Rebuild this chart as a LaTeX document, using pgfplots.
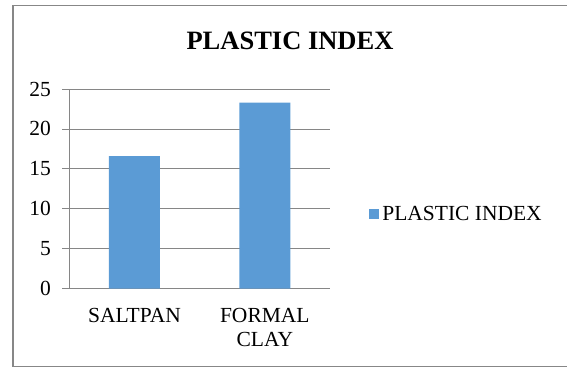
\documentclass[border=0pt]{standalone}
\usepackage{fontspec}
\setmainfont{Liberation Serif}
\usepackage{pgfplots}
\pgfplotsset{compat=1.18}
\definecolor{barblue}{HTML}{5B9BD5}
\definecolor{gridgray}{RGB}{134,134,134}
\definecolor{framegray}{RGB}{135,135,135}
\begin{document}
\begin{tikzpicture}[x=1pt,y=1pt]
  \begin{axis}[name=ax,
    anchor=south west,
    scale only axis, width=260.7pt, height=199.7pt,
    ybar, bar width=51pt,
    ymin=0, ymax=25, ytick={0,5,...,25},
    xmin=-0.5, xmax=1.5,
    xtick={0,1}, xticklabels={SALTPAN, {FORMAL\\CLAY}},
    x tick style={draw=none},
    extra x ticks={-0.5,0.5,1.5}, extra x tick labels={},
    extra x tick style={major tick length=5pt,
      tick style={draw=gridgray, line width=0.8pt}, grid=none},
    axis x line=bottom, axis y line=left,
    axis line style={-, draw=gridgray, line width=0.8pt},
    tick align=outside, major tick length=7pt,
    y tick style={draw=gridgray, line width=0.8pt},
    ymajorgrids, grid style={draw=gridgray, line width=0.8pt},
    /pgf/number format/assume math mode=true,
    tick label style={font=\fontsize{21.5}{24}\selectfont, text=black},
    xticklabel style={align=center, yshift=-9.5pt},
    yticklabel style={xshift=-8pt},
    legend style={at={(1.150,0.374)}, anchor=west, draw=none, fill=none,
      font=\fontsize{21.5}{24}\selectfont, inner sep=0pt,
      nodes={inner sep=3pt}, legend cell align=left},
    legend image code/.code={\fill[barblue] (0pt,-5pt) rectangle (10pt,5pt);},
  ]
    \addplot[fill=barblue, draw=none] coordinates {(0,16.6) (1,23.3)};
    \addlegendentry{PLASTIC INDEX}
  \end{axis}
  % page origin, measured from the lower left corner of the plot area
  \begin{scope}[shift={(ax.south west)}, xshift=-69.3pt, yshift=-79.3pt]
    \useasboundingbox (0,0) rectangle (567,368);
    \draw[framegray, line width=1.2pt] (13,1.3) rectangle (575,362.7);
    \node[anchor=base, font=\fontsize{26.5}{30}\selectfont\bfseries] at (290,318.5) {PLASTIC INDEX};
  \end{scope}
\end{tikzpicture}
\end{document}
